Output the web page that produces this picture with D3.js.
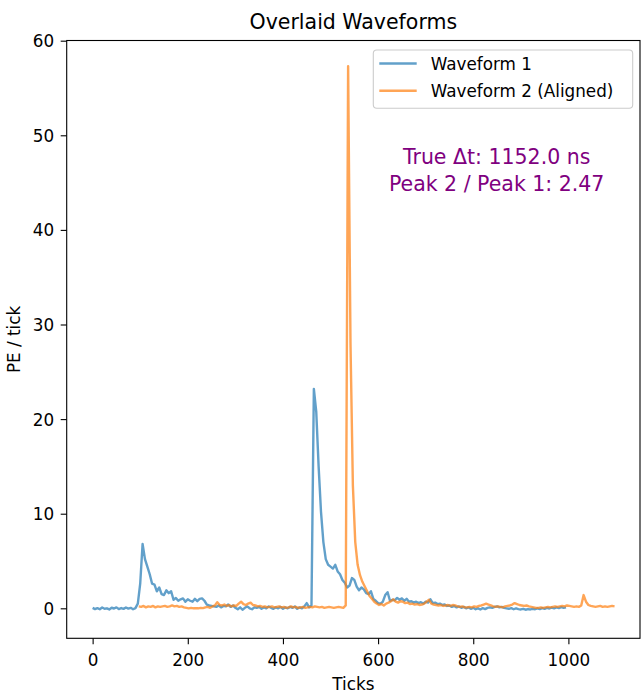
<!DOCTYPE html>
<html>
<head>
<meta charset="utf-8">
<script src="https://cdn.jsdelivr.net/npm/d3@7"></script>
<style>
  html, body { margin: 0; padding: 0; background: #fff; }
  svg { display: block; font-family: "DejaVu Sans", sans-serif; }
</style>
</head>
<body>
<svg id="chart" width="641" height="694"></svg>
<script>
// Waveform 1: samples every 5 ticks starting at tick 0 (PE / tick)
const wf1Start = 0;
const wf1Step = 5;
const wf1Values = [
  0.05, -0.08, 0.02, -0.10, 0.08, -0.05, 0.00, -0.12, 0.06, -0.02,
  0.10, -0.08, 0.03, -0.06, 0.09, -0.03, 0.05, -0.10, 0.02, 0.50,
  2.6, 6.8, 5.2, 4.4, 3.6, 2.6, 2.5, 1.8, 2.2, 1.5,
  1.4, 1.9, 1.6, 1.8, 0.9, 1.1, 0.8, 0.95, 1.05, 0.7,
  0.95, 0.8, 0.7, 1.0, 0.75, 1.0, 1.05, 0.8, 0.4, 0.3,
  0.25, 0.2, 0.15, 0.3, 0.1, 0.25, 0.2, 0.4, 0.15, 0.3,
  0.05, -0.1, 0.1, -0.15, 0.05, 0.2, 0.0, -0.1, 0.1, 0.05,
  0.15, -0.05, 0.1, 0.0, 0.2, 0.05, -0.05, 0.1, 0.0, 0.15,
  -0.05, 0.1, 0.0, 0.15, 0.05, 0.2, -0.05, 0.1, 0.0, 0.2,
  0.55, 0.1, 0.3, 23.2, 20.8, 15.0, 10.2, 7.0, 5.2, 4.6,
  4.4, 4.2, 4.6, 3.9, 3.6, 3.0, 2.7, 2.2, 2.4, 3.2,
  3.0, 2.3, 1.9, 2.2, 2.0, 1.6, 1.5, 1.8, 1.0, 0.8,
  0.55, 0.5, 0.7, 1.4, 1.7, 0.8, 0.9, 0.85, 1.1, 0.9,
  1.05, 0.8, 1.0, 0.7, 0.75, 0.6, 0.7, 0.55, 0.65, 0.5,
  0.7, 0.6, 0.95, 0.55, 0.6, 0.45, 0.5, 0.35, 0.4, 0.25,
  0.3, 0.15, 0.25, 0.1, 0.2, 0.05, 0.15, 0.0, 0.1, -0.05,
  0.05, -0.1, 0.0, -0.12, 0.02, -0.08, 0.05, 0.1, 0.05, 0.15,
  0.2, 0.1, 0.15, 0.05, 0.0, -0.05, 0.02, -0.1, 0.0, -0.08,
  -0.12, -0.05, -0.15, -0.08, -0.12, -0.05, -0.1, 0.0, -0.08, 0.02,
  -0.05, 0.05, -0.02, 0.08, 0.0, 0.1, 0.02, 0.12, 0.05, 0.1
];

// Waveform 2 (aligned): samples every 5 ticks starting at tick 97
const wf2Start = 97;
const wf2Step = 5;
const wf2Values = [
  0.2, 0.15, 0.25, 0.1, 0.2, 0.15, 0.25, 0.1, 0.2, 0.15,
  0.2, 0.25, 0.15, 0.2, 0.3, 0.2, 0.25, 0.15, 0.2, 0.1,
  0.05, 0.0, 0.05, 0.0, 0.02, 0.0, 0.05, 0.02, 0.1, 0.15,
  0.05, 0.2, 0.3, 0.65, 0.35, 0.3, 0.4, 0.25, 0.35, 0.2,
  0.3, 0.25, 0.5, 0.7, 0.45, 0.35, 0.5, 0.6, 0.35, 0.3,
  0.2, 0.25, 0.15, 0.2, 0.1, 0.15, 0.2, 0.1, 0.15, 0.2,
  0.1, 0.15, 0.05, 0.1, 0.2, 0.1, 0.15, 0.05, 0.1, 0.15,
  0.05, 0.1, 0.15, 0.1, 0.2, 0.15, 0.1, 0.15, 0.05, 0.1,
  0.15, 0.1, 0.05, 0.1, 0.15, 0.1, 0.05, 0.3, 57.3, 28.0,
  13.0, 7.0, 4.6, 3.5, 2.8, 2.3, 1.8, 1.3, 1.0, 0.7,
  0.5, 0.35, 0.45, 0.3, 0.5, 0.6, 0.75, 0.95, 0.7, 0.6,
  0.75, 0.7, 0.55, 0.6, 0.45, 0.5, 0.4, 0.45, 0.35, 0.4,
  0.5, 0.7, 0.9, 0.5, 0.4, 0.35, 0.3, 0.35, 0.25, 0.3,
  0.35, 0.25, 0.35, 0.3, 0.2, 0.15, 0.2, 0.1, 0.1, 0.15,
  0.1, 0.2, 0.15, 0.25, 0.3, 0.4, 0.5, 0.4, 0.3, 0.2,
  0.15, 0.2, 0.15, 0.1, 0.2, 0.25, 0.3, 0.4, 0.55, 0.45,
  0.35, 0.3, 0.25, 0.3, 0.2, 0.15, 0.1, 0.05, 0.05, 0.1,
  0.05, 0.1, 0.15, 0.1, 0.15, 0.2, 0.15, 0.2, 0.25, 0.2,
  0.3, 0.25, 0.2, 0.15, 0.2, 0.15, 0.3, 1.4, 0.7, 0.35,
  0.25, 0.2, 0.15, 0.2, 0.25, 0.15, 0.2, 0.15, 0.2, 0.25,
  0.2
];

const seriesNames = ["Waveform 1", "Waveform 2 (Aligned)"];
const seriesColors = ["#1f77b4", "#ff7f0e"];
const xTickValues = [0, 200, 400, 600, 800, 1000];
const yTickValues = [0, 10, 20, 30, 40, 50, 60];
const trueDeltaT = 1152.0; // ns

const titleText = "Overlaid Waveforms";
const xLabel = "Ticks";
const yLabel = "PE / tick";

// Layout
const plot = { left: 66.7, right: 640, top: 40.5, bottom: 638.3 };
const svg = d3.select("#chart");

const x = d3.scaleLinear().domain([-54.5, 1150.5]).range([plot.left, plot.right]);
const y = d3.scaleLinear().domain([-3.17, 60.02]).range([plot.bottom, plot.top]);

const toPoints = (start, step, vals) => vals.map((v, i) => ({ t: start + i * step, v }));
const series = [
  toPoints(wf1Start, wf1Step, wf1Values),
  toPoints(wf2Start, wf2Step, wf2Values)
];

// Axes
const xAxis = d3.axisBottom(x).tickValues(xTickValues).tickSize(6).tickFormat(d3.format("d"));
const yAxis = d3.axisLeft(y).tickValues(yTickValues).tickSize(6).tickFormat(d3.format("d"));

const gx = svg.append("g").attr("transform", `translate(0,${plot.bottom})`).call(xAxis);
const gy = svg.append("g").attr("transform", `translate(${plot.left},0)`).call(yAxis);
[gx, gy].forEach(g => {
  g.select(".domain").remove();
  g.selectAll(".tick line").attr("stroke", "#000").attr("stroke-width", 1.1);
  g.selectAll(".tick text").attr("fill", "#000").style("font-size", "16.8px")
    .style("font-family", "'DejaVu Sans', sans-serif");
});
gx.selectAll(".tick text").attr("y", 27.6).attr("dy", 0);
gy.selectAll(".tick text").attr("x", -12.5).attr("dy", "0.36em");

// Waveform lines
const line = d3.line().x(d => x(d.t)).y(d => y(d.v));
svg.append("g").selectAll("path.wave")
  .data(series)
  .join("path")
  .attr("class", "wave")
  .attr("d", line)
  .attr("fill", "none")
  .attr("stroke", (d, i) => seriesColors[i])
  .attr("stroke-opacity", 0.7)
  .attr("stroke-width", 2.4)
  .attr("stroke-linejoin", "round")
  .attr("stroke-linecap", "butt");

// Frame
svg.append("rect")
  .attr("x", plot.left).attr("y", plot.top)
  .attr("width", plot.right - plot.left).attr("height", plot.bottom - plot.top)
  .attr("fill", "none").attr("stroke", "#000").attr("stroke-width", 1.1);

// Title and axis labels
svg.append("text")
  .attr("x", (plot.left + plot.right) / 2).attr("y", 29)
  .attr("text-anchor", "middle").style("font-size", "20.5px").attr("fill", "#000")
  .text(titleText);
svg.append("text")
  .attr("x", (plot.left + plot.right) / 2).attr("y", 689.5)
  .attr("text-anchor", "middle").style("font-size", "16.8px").attr("fill", "#000")
  .text(xLabel);
svg.append("text")
  .attr("transform", `translate(20,${(plot.top + plot.bottom) / 2}) rotate(-90)`)
  .attr("text-anchor", "middle").style("font-size", "16.8px").attr("fill", "#000")
  .text(yLabel);

// Legend
const legend = svg.append("g");
legend.append("rect")
  .attr("x", 373.3).attr("y", 50).attr("width", 259.4).attr("height", 58.3)
  .attr("rx", 3.5).attr("ry", 3.5)
  .attr("fill", "#fff").attr("fill-opacity", 0.8)
  .attr("stroke", "#cccccc").attr("stroke-width", 1.1);
seriesNames.forEach((name, i) => {
  const cy = 63.5 + i * 27.2;
  legend.append("line")
    .attr("x1", 379.3).attr("x2", 416.7).attr("y1", cy).attr("y2", cy)
    .attr("stroke", seriesColors[i]).attr("stroke-opacity", 0.7).attr("stroke-width", 2.4);
  legend.append("text")
    .attr("x", 430.7).attr("y", cy + 6.3)
    .style("font-size", "16.8px").attr("fill", "#000")
    .text(name);
});

// Annotation: true time offset and peak ratio
const peakRatio = d3.max(wf2Values) / d3.max(wf1Values);
const noteX = x.invert(plot.left + 0.75 * (plot.right - plot.left));
const note = svg.append("text")
  .attr("text-anchor", "middle").style("font-size", "20.5px").attr("fill", "#800080");
note.append("tspan").attr("x", x(noteX)).attr("y", 164.3)
  .text(`True Δt: ${trueDeltaT.toFixed(1)} ns`);
note.append("tspan").attr("x", x(noteX)).attr("y", 191)
  .text(`Peak 2 / Peak 1: ${peakRatio.toFixed(2)}`);
</script>
</body>
</html>
